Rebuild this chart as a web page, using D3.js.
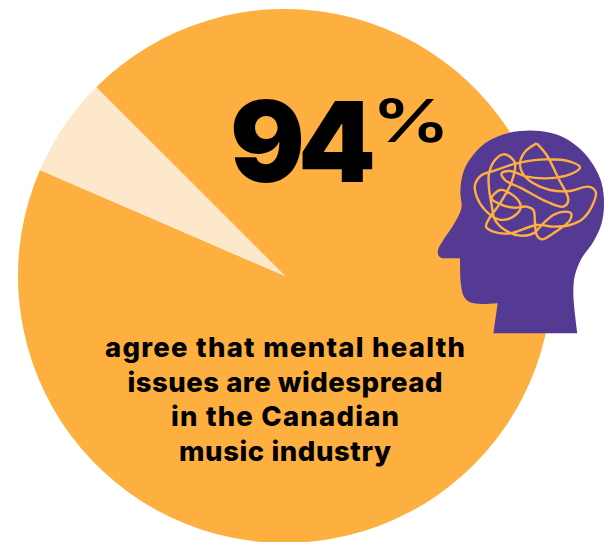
<!DOCTYPE html>
<html>
<head>
<meta charset="utf-8">
<script src="https://cdn.jsdelivr.net/npm/d3@7/dist/d3.min.js"></script>
<style>
html,body{margin:0;padding:0;background:#fff}
svg{display:block}
text{font-family:Inter,"Noto Sans",sans-serif;fill:#000}
</style>
</head>
<body>
<svg id="chart" width="609" height="542"></svg>
<script>
const categories = ["agree", "other"];
const values = [94, 6];
const sliceColors = ["#FDB040", "#FEE8CC"];
const captionLines = [
  "agree that mental health",
  "issues are widespread",
  "in the Canadian",
  "music industry"
];
const captionWidths = [360, 315, 228, 212];

// Head silhouette in runs: each run is smooth, and corners fall between runs.
// Coordinates are in the icon's own 189x220 box at 3x.
const headRuns = [
  [[220,640],[233,550]],
  [[233,550],[185,552],[150,547],[132,530],[123,495],[120,415]],
  [[120,415],[68,415]],
  [[68,415],[56,407],[54,390],[70,360],[100,315],[124,265],[121,215],[129,160],[152,115],[195,70],[245,45],[300,33],[360,33],
   [420,47],[475,82],[520,135],[545,190],[552,250],[545,310],[520,365],[485,415],[465,465],[460,520],[472,640]],
  [[472,640],[220,640]]
];

// The tangled line, traced as one closed stroke (shifted into the same box below).
const tangleOffset = [150, 45];
const tangle = [
  [200,25],[165,50],[150,85],[158,115],[190,145],[240,165],[300,168],[355,155],[377,170],[370,205],
  [340,250],[300,270],[250,275],[200,270],[120,295],[70,290],[48,275],[55,255],[90,205],[125,140],
  [135,85],[120,65],[100,58],[75,75],[57,115],[57,160],[65,210],[75,255],[105,285],[150,302],
  [190,295],[220,265],[250,240],[285,230],[303,235],[300,255],[250,295],[215,313],[200,300],[195,265],
  [190,225],[170,215],[130,218],[85,205],[65,190],[90,165],[120,175],[150,205],[150,225],[120,250],
  [85,253],[45,225],[20,185],[15,150],[35,120],[70,108],[140,85],[230,73],[300,80],[330,97],
  [300,118],[230,130],[170,125],[120,108],[95,115],[105,135],[155,160],[230,200],[280,215],[295,195],
  [265,130],[230,60],[200,25]
];

const svg = d3.select("#chart");

// Pie, rotated so the small slice ends on the upper-left diagonal.
const cx = 285, cy = 276, radius = 267;
const start = -Math.PI / 4;
const pie = d3.pie().value(d => d).sort(null).startAngle(start).endAngle(start + 2 * Math.PI);
const arc = d3.arc().innerRadius(0).outerRadius(radius);
const color = d3.scaleOrdinal().domain(categories).range(sliceColors);

svg.append("g").attr("transform", `translate(${cx},${cy})`)
  .selectAll("path").data(pie(values)).join("path")
  .attr("d", arc)
  .attr("fill", (d, i) => color(categories[i]));

// Headline figure.
svg.append("text").attr("x", 230).attr("y", 182)
  .attr("font-size", 112).attr("font-weight", 900).attr("letter-spacing", -7)
  .attr("textLength", 139).attr("lengthAdjust", "spacingAndGlyphs")
  .text(values[0]);
svg.append("text")
  .attr("transform", "translate(411,142) scale(1.22,0.93)")
  .attr("text-anchor", "middle")
  .attr("font-size", 64).attr("font-weight", 600)
  .text("%");

// Icon.
const iconX = d3.scaleLinear().domain([0, 567]).range([420, 609]);
const iconY = d3.scaleLinear().domain([0, 660]).range([120, 340]);
const smooth = d3.line().x(d => iconX(d[0])).y(d => iconY(d[1])).curve(d3.curveCatmullRom.alpha(0.5));

const headPath = headRuns
  .map((run, i) => {
    const d = smooth(run);
    return i === 0 ? d : "L" + d.slice(1);
  })
  .join("") + "Z";

svg.append("path").attr("d", headPath).attr("fill", "#553A94");
svg.append("path")
  .attr("d", smooth(tangle.map(([x, y]) => [x + tangleOffset[0], y + tangleOffset[1]])))
  .attr("fill", "none").attr("stroke", "#FDB040").attr("stroke-width", 2.4);

// Caption: each line is fitted to its own measure.
svg.append("g").selectAll("text").data(captionLines).join("text")
  .attr("x", (d, i) => 285 - captionWidths[i] / 2)
  .attr("y", (d, i) => 357 + i * 34.7)
  .attr("font-size", 27.5)
  .attr("font-weight", 800)
  .attr("textLength", (d, i) => captionWidths[i])
  .attr("lengthAdjust", "spacing")
  .text(d => d);
</script>
</body>
</html>
